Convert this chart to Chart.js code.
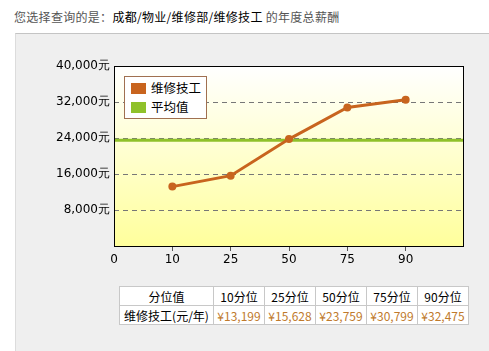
<!DOCTYPE html>
<html>
<head>
<meta charset="utf-8">
<script src="https://cdn.jsdelivr.net/npm/chart.js@4"></script>
<style>
  body { margin: 0; background: #fff; font-family: "Noto Sans CJK SC", sans-serif; font-size: 12px; }
  #titulo { position: absolute; left: 14px; top: 8px; color: #555; white-space: nowrap; letter-spacing: 0.3px; }
  #titulo b { color: #000; font-weight: normal; }
  #panel { position: absolute; left: 15px; top: 33px; width: 480px; height: 330px; background: #efefef;
           border-top: 1px solid #c4c4c4; border-left: 1px solid #dcdcdc; }
  #grafico { position: absolute; left: 0; top: 0; }
  #leyenda { position: absolute; left: 124px; top: 76px; width: 81px; height: 41px; background: #fff;
             border: 1px solid #a07050; }
  .item { position: absolute; left: 6px; height: 16px; line-height: 16px; white-space: nowrap; font-size: 12.5px; }
  .item span { display: inline-block; width: 15px; height: 11px; margin-right: 5px; vertical-align: -1px; }
  #tabla { position: absolute; left: 119px; top: 286px; border-collapse: collapse; background: #fff; }
  #tabla td { border: 1px solid #c8c8c8; height: 18px; padding: 0; text-align: center; white-space: nowrap; }
  #tabla td.valor { color: #c07a2c; }
</style>
</head>
<body>
<div id="titulo">您选择查询的是：<b>成都/物业/维修部/维修技工</b> 的年度总薪酬</div>
<div id="panel"></div>
<canvas id="grafico" width="489" height="275"></canvas>
<div id="leyenda"></div>
<table id="tabla"></table>
<script>
// Datos del gráfico
const percentiles = ["0", "10", "25", "50", "75", "90", ""];
const salarios = [null, 13199, 15628, 23759, 30799, 32475, null];
const promedio = [23500, 23500, 23500, 23500, 23500, 23500, 23500];
const ticksY = [0, 8000, 16000, 24000, 32000, 40000];
const nombreSerie = "维修技工";
const nombrePromedio = "平均值";

const colorSerie = "#c8641e";
const colorPromedio = "#8fc12a";

// Fondo degradado y borde del área de trazado
const fondoPlot = {
  id: "fondoPlot",
  beforeDraw(chart) {
    const a = chart.chartArea;
    const ctx = chart.ctx;
    const g = ctx.createLinearGradient(0, a.top, 0, a.bottom);
    g.addColorStop(0, "#ffffff");
    g.addColorStop(1, "#ffff9c");
    ctx.save();
    ctx.fillStyle = g;
    ctx.fillRect(a.left, a.top, a.right - a.left, a.bottom - a.top);
    ctx.restore();
  },
  afterDraw(chart) {
    const a = chart.chartArea;
    const ctx = chart.ctx;
    ctx.save();
    ctx.strokeStyle = "#000";
    ctx.lineWidth = 1;
    ctx.strokeRect(a.left + 0.5, a.top + 0.5, a.right - a.left - 1, a.bottom - a.top);
    ctx.restore();
  }
};

const ctx = document.getElementById("grafico").getContext("2d");
new Chart(ctx, {
  type: "line",
  data: {
    labels: percentiles,
    datasets: [{
      label: nombreSerie,
      data: salarios,
      borderColor: colorSerie,
      backgroundColor: colorSerie,
      borderWidth: 3,
      pointRadius: 2.5,
      pointHoverRadius: 2.5,
      order: 1
    }, {
      label: nombrePromedio,
      data: promedio,
      borderColor: colorPromedio,
      borderWidth: 3,
      pointRadius: 0,
      order: 2
    }]
  },
  options: {
    responsive: false,
    animation: false,
    layout: { padding: { left: 0, right: 25, top: 66, bottom: 9 } },
    plugins: { legend: { display: false }, tooltip: { enabled: false } },
    scales: {
      x: {
        offset: false,
        afterFit: ax => { ax.height = 20; },
        grid: {
          drawOnChartArea: false, drawTicks: true, tickLength: 5,
          color: c => (c.index === 0 || c.index === percentiles.length - 1) ? "rgba(0,0,0,0)" : "#555"
        },
        border: { display: false },
        ticks: { color: "#000", font: { size: 12, family: "DejaVu Sans" }, padding: 2, maxRotation: 0 }
      },
      y: {
        min: 0,
        max: 40000,
        afterFit: ax => { ax.width = 114; },
        afterBuildTicks: ax => { ax.ticks = ticksY.map(v => ({ value: v })); },
        grid: {
          drawTicks: false,
          color: c => (c.tick.value === 0 || c.tick.value === 40000) ? "rgba(0,0,0,0)" : "#777",
          lineWidth: 1
        },
        border: { display: false, dash: [5, 4] },
        ticks: {
          color: "#000",
          padding: 4,
          font: { size: 12, family: "DejaVu Sans" },
          callback: v => v === 0 ? "" : v.toLocaleString("en-US") + "元"
        }
      }
    }
  },
  plugins: [fondoPlot]
});

// Leyenda
const leyenda = document.getElementById("leyenda");
[[nombreSerie, colorSerie], [nombrePromedio, colorPromedio]].forEach((it, i) => {
  const d = document.createElement("div");
  d.className = "item";
  d.style.top = (3 + i * 19) + "px";
  d.innerHTML = '<span style="background:' + it[1] + '"></span>' + it[0];
  leyenda.appendChild(d);
});

// Tabla de valores
const tabla = document.getElementById("tabla");
const anchos = [93, 50, 50, 50, 50, 50];
let fila1 = "<tr><td style='width:" + anchos[0] + "px'>分位值</td>";
let fila2 = "<tr><td>" + nombreSerie + "(元/年)</td>";
percentiles.forEach((p, i) => {
  if (salarios[i] === null) return;
  fila1 += "<td style='width:" + anchos[i] + "px'>" + p + "分位</td>";
  fila2 += "<td class='valor'>¥" + salarios[i].toLocaleString("en-US") + "</td>";
});
tabla.innerHTML = fila1 + "</tr>" + fila2 + "</tr>";
</script>
</body>
</html>
